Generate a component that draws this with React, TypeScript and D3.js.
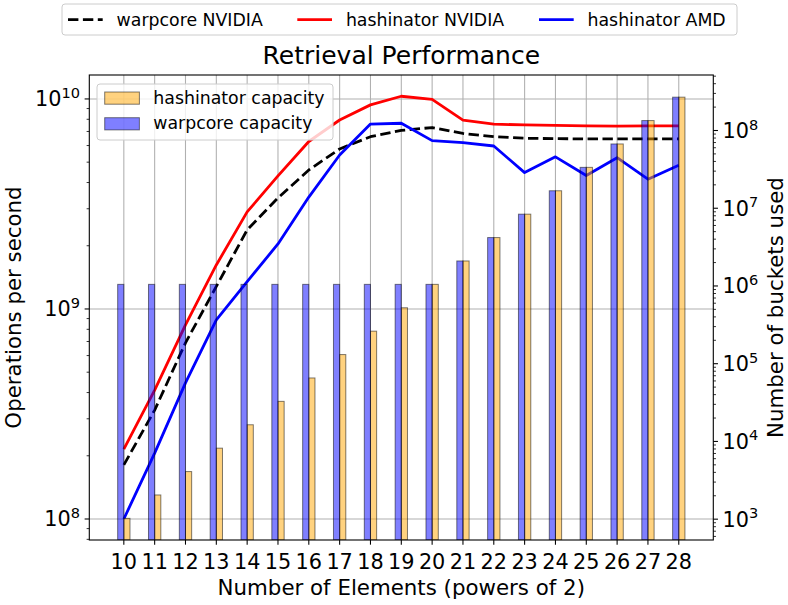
import React from 'react';
import * as d3 from 'd3';

// ---------- data ----------
const exponents = [10, 11, 12, 13, 14, 15, 16, 17, 18, 19, 20, 21, 22, 23, 24, 25, 26, 27, 28];
const warpcoreNvidia = [1.81e8, 3.3e8, 6.9e8, 1.28e9, 2.38e9, 3.38e9, 4.59e9, 5.78e9, 6.61e9, 7.08e9, 7.31e9, 6.85e9, 6.61e9, 6.5e9, 6.47e9, 6.45e9, 6.45e9, 6.45e9, 6.45e9];
const hashinatorNvidia = [2.15e8, 4.11e8, 8.4e8, 1.62e9, 2.9e9, 4.3e9, 6.27e9, 7.94e9, 9.37e9, 1.03e10, 9.95e9, 7.93e9, 7.59e9, 7.52e9, 7.48e9, 7.45e9, 7.43e9, 7.45e9, 7.45e9];
const hashinatorAmd = [1.0e8, 2.06e8, 4.45e8, 8.87e8, 1.35e9, 2.04e9, 3.41e9, 5.41e9, 7.59e9, 7.66e9, 6.33e9, 6.19e9, 5.97e9, 4.46e9, 5.3e9, 4.32e9, 5.25e9, 4.15e9, 4.83e9];
const hashinatorCapacity = [1024, 2048, 4096, 8192, 16384, 32768, 65536, 131072, 262144, 524288, 1048576, 2097152, 4194304, 8388608, 16777216, 33554432, 67108864, 134217728, 268435456];
const warpcoreCapacity = [1048576, 1048576, 1048576, 1048576, 1048576, 1048576, 1048576, 1048576, 1048576, 1048576, 1048576, 2097152, 4194304, 8388608, 16777216, 33554432, 67108864, 134217728, 268435456];
const leftMajorExps = [8, 9, 10];
const rightMajorExps = [3, 4, 5, 6, 7, 8];
const lineSeries = [
  { name: 'warpcore NVIDIA', values: warpcoreNvidia, color: '#000000', dash: '10.4 4.5' },
  { name: 'hashinator NVIDIA', values: hashinatorNvidia, color: '#ff0000', dash: '' },
  { name: 'hashinator AMD', values: hashinatorAmd, color: '#0000ff', dash: '' },
];

// ---------- layout ----------
const W = 788;
const H = 605;
const L = 89.3;
const R = 713.3;
const T = 75;
const B = 540;
const FONT = 'DejaVu Sans, sans-serif';
const TICK_FS = 20.8;
const LABEL_FS = 21.33;
const LEG_FS = 17.33;
const BAR_W = 0.2;

const x = d3.scaleLinear().domain([8.88, 29.12]).range([L, R]);
const yL = d3.scaleLog().domain([10 ** 7.9, 10 ** 10.114]).range([B, T]);
const yR = d3.scaleLog().domain([10 ** 2.732, 10 ** 8.714]).range([B, T]);

function minorTicks(scale: d3.ScaleLogarithmic<number, number>) {
  const [d0, d1] = scale.domain();
  const out: number[] = [];
  for (let e = Math.floor(Math.log10(d0)); e <= Math.ceil(Math.log10(d1)); e++) {
    for (let m = 2; m <= 9; m++) {
      const v = m * 10 ** e;
      if (v >= d0 && v <= d1) out.push(v);
    }
  }
  return out;
}

const PowLabel = ({ x0, y0, exp, anchor }: { x0: number; y0: number; exp: number; anchor: string }) => (
  <text x={x0} y={y0} fontSize={TICK_FS} fontFamily={FONT} textAnchor={anchor} fill="#000">
    10
    <tspan fontSize={TICK_FS * 0.7} dy={-8.5}>{exp}</tspan>
  </text>
);

export default function App() {
  const line = (vals: number[]) =>
    d3.line<number>().x((_, i) => x(exponents[i])).y((v) => yL(v))(vals) || '';

  const topLegend = [
    { hx: 68, tx: 116.6 },
    { hx: 297.3, tx: 345.9 },
    { hx: 539, tx: 587.5 },
  ];

  return (
    <svg width={W} height={H} style={{ position: 'absolute', left: 0, top: 0, background: '#fff' }}>
      <defs>
        <clipPath id="plot">
          <rect x={L} y={T} width={R - L} height={B - T} />
        </clipPath>
      </defs>
      <rect x={0} y={0} width={W} height={H} fill="#fff" />

      {/* grid */}
      <g stroke="#b0b0b0" strokeWidth={1.07}>
        {exponents.map((e) => (
          <line key={'gx' + e} x1={x(e)} x2={x(e)} y1={T} y2={B} />
        ))}
        {leftMajorExps.map((e) => (
          <line key={'gy' + e} x1={L} x2={R} y1={yL(10 ** e)} y2={yL(10 ** e)} />
        ))}
      </g>

      {/* lines */}
      <g clipPath="url(#plot)" fill="none" strokeWidth={2.8} strokeLinejoin="round">
        {lineSeries.map((s) => (
          <path key={s.name} d={line(s.values)} stroke={s.color} strokeDasharray={s.dash || undefined} />
        ))}
      </g>

      {/* bars (twin axis) */}
      <g clipPath="url(#plot)" stroke="rgba(0,0,0,0.5)" strokeWidth={1}>
        {exponents.map((e, i) => (
          <rect
            key={'hb' + e}
            x={x(e)}
            width={x(e + BAR_W) - x(e)}
            y={yR(hashinatorCapacity[i])}
            height={B - yR(hashinatorCapacity[i])}
            fill="rgba(255,165,0,0.5)"
          />
        ))}
        {exponents.map((e, i) => (
          <rect
            key={'wb' + e}
            x={x(e - BAR_W)}
            width={x(e) - x(e - BAR_W)}
            y={yR(warpcoreCapacity[i])}
            height={B - yR(warpcoreCapacity[i])}
            fill="rgba(0,0,255,0.5)"
          />
        ))}
      </g>

      {/* spines */}
      <rect x={L} y={T} width={R - L} height={B - T} fill="none" stroke="#000" strokeWidth={1.1} />

      {/* x ticks */}
      {exponents.map((e) => (
        <g key={'xt' + e}>
          <line x1={x(e)} x2={x(e)} y1={B} y2={B + 4.67} stroke="#000" strokeWidth={1.07} />
          <text x={x(e)} y={568.5} fontSize={TICK_FS} fontFamily={FONT} textAnchor="middle">
            {e}
          </text>
        </g>
      ))}

      {/* left y ticks */}
      {leftMajorExps.map((e) => (
        <g key={'lt' + e}>
          <line x1={L - 4.67} x2={L} y1={yL(10 ** e)} y2={yL(10 ** e)} stroke="#000" strokeWidth={1.07} />
          <PowLabel x0={L - 9.3} y0={yL(10 ** e) + 7.5} exp={e} anchor="end" />
        </g>
      ))}
      {minorTicks(yL).map((v) => (
        <line key={'lm' + v} x1={L - 2.67} x2={L} y1={yL(v)} y2={yL(v)} stroke="#000" strokeWidth={0.8} />
      ))}

      {/* right y ticks */}
      {rightMajorExps.map((e) => (
        <g key={'rt' + e}>
          <line x1={R} x2={R + 4.67} y1={yR(10 ** e)} y2={yR(10 ** e)} stroke="#000" strokeWidth={1.07} />
          <PowLabel x0={R + 9.3} y0={yR(10 ** e) + 7.5} exp={e} anchor="start" />
        </g>
      ))}
      {minorTicks(yR).map((v) => (
        <line key={'rm' + v} x1={R} x2={R + 2.67} y1={yR(v)} y2={yR(v)} stroke="#000" strokeWidth={0.8} />
      ))}

      {/* axis labels */}
      <text x={(L + R) / 2} y={594.5} fontSize={LABEL_FS} fontFamily={FONT} textAnchor="middle">
        Number of Elements (powers of 2)
      </text>
      <text transform={`translate(21,${(T + B) / 2}) rotate(-90)`} fontSize={LABEL_FS} fontFamily={FONT} textAnchor="middle">
        Operations per second
      </text>
      <text transform={`translate(783,${(T + B) / 2}) rotate(-90)`} fontSize={LABEL_FS} fontFamily={FONT} textAnchor="middle">
        Number of buckets used
      </text>

      {/* title */}
      <text x={(L + R) / 2} y={64} fontSize={25} fontFamily={FONT} textAnchor="middle">
        Retrieval Performance
      </text>

      {/* inner legend */}
      <g>
        <rect x={97} y={84} width={236} height={56} rx={3} fill="rgba(255,255,255,0.8)" stroke="#cccccc" strokeWidth={1} />
        <rect x={104.7} y={92} width={34.7} height={12.2} fill="rgba(255,165,0,0.5)" stroke="rgba(0,0,0,0.5)" strokeWidth={1} />
        <text x={153.3} y={103.5} fontSize={LEG_FS} fontFamily={FONT}>hashinator capacity</text>
        <rect x={104.7} y={117.7} width={34.7} height={12.2} fill="rgba(0,0,255,0.5)" stroke="rgba(0,0,0,0.5)" strokeWidth={1} />
        <text x={153.3} y={129.2} fontSize={LEG_FS} fontFamily={FONT}>warpcore capacity</text>
      </g>

      {/* top legend */}
      <g>
        <rect x={62} y={4} width={675} height={31} rx={3} fill="rgba(255,255,255,0.8)" stroke="#cccccc" strokeWidth={1} />
        {lineSeries.map((s, i) => (
          <g key={'tl' + s.name}>
            <line
              x1={topLegend[i].hx}
              x2={topLegend[i].hx + 34.7}
              y1={19.7}
              y2={19.7}
              stroke={s.color}
              strokeWidth={2.8}
              strokeDasharray={s.dash || undefined}
            />
            <text x={topLegend[i].tx} y={25.8} fontSize={LEG_FS} fontFamily={FONT}>
              {s.name}
            </text>
          </g>
        ))}
      </g>
    </svg>
  );
}
